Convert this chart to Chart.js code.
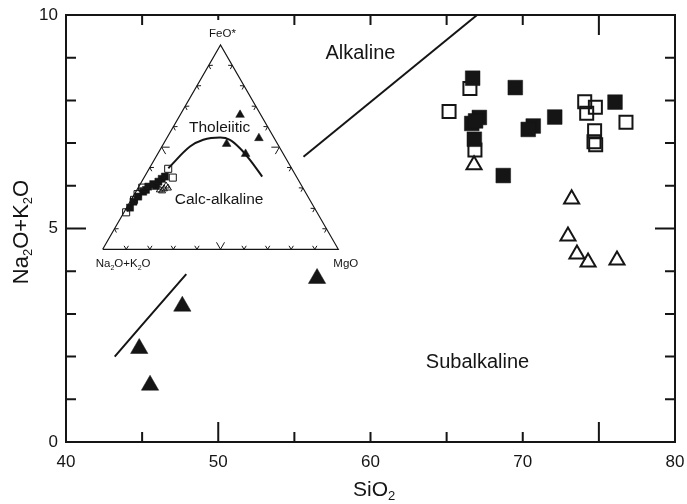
<!DOCTYPE html>
<html>
<head>
<meta charset="utf-8">
<script src="https://cdn.jsdelivr.net/npm/chart.js@4.4.0/dist/chart.umd.min.js"></script>
<style>
  body { margin: 0; background: #fff; }
  #wrap { position: relative; width: 687px; height: 504px; }
  #tas { position: absolute; left: 0; top: 0; }
  #afm { position: absolute; left: 85px; top: 20px; }
</style>
</head>
<body>
<div id="wrap">
  <canvas id="tas" width="687" height="504"></canvas>
  <canvas id="afm" width="280" height="255"></canvas>
</div>
<script>
// TAS diagram: SiO2 (wt%) against Na2O+K2O (wt%)
const filledSquareSiO2 = [66.71, 69.51, 67.15, 66.65, 66.90, 70.69, 70.36, 72.10, 66.82, 68.72, 76.06];
const filledSquareAlk  = [8.52, 8.30, 7.60, 7.46, 7.52, 7.40, 7.32, 7.61, 7.09, 6.24, 7.96];
const openSquareSiO2 = [66.53, 65.16, 74.07, 74.77, 74.20, 76.78, 74.72, 74.68, 74.79, 66.86];
const openSquareAlk  = [8.28, 7.74, 7.97, 7.84, 7.70, 7.49, 7.29, 7.03, 6.96, 6.84];
const openTriangleSiO2 = [66.80, 73.21, 72.97, 73.56, 74.29, 76.19];
const openTriangleAlk  = [6.49, 5.69, 4.82, 4.40, 4.21, 4.26];
const filledTriangleSiO2 = [44.81, 45.52, 47.64, 56.49];
const filledTriangleAlk  = [2.19, 1.33, 3.18, 3.83];

// alkaline / subalkaline boundary (Irvine & Baragar), two visible pieces
const boundaryLowSiO2 = [43.2, 44.9, 47.9];
const boundaryLowAlk  = [2.0, 2.7, 3.93];
const boundaryHighSiO2 = [55.6, 67.0];
const boundaryHighAlk  = [6.68, 10.0];

// AFM inset, each point as [Na2O+K2O, FeO*, MgO] in %
const afmFilledSquares = [[78.2, 20.4, 1.4], [75.3, 23.3, 1.4], [72.0, 25.8, 2.2], [68.7, 28.2, 3.1],
  [67.1, 29.1, 3.8], [65.3, 30.7, 4.0], [61.9, 31.0, 7.1], [62.6, 31.9, 5.5], [59.8, 33.1, 7.1],
  [57.7, 34.5, 7.8], [55.8, 35.6, 8.6]];
const afmOpenSquares = [[52.5, 39.4, 8.1], [52.7, 35.1, 12.2], [68.1, 30.2, 1.7], [71.7, 27.0, 1.3],
  [74.6, 24.2, 1.2], [81.0, 18.1, 0.9]];
const afmOpenTriangles = [[61.2, 29.1, 9.7], [59.2, 29.6, 11.2], [57.3, 30.0, 12.7], [57.6, 31.0, 11.4],
  [60.5, 28.6, 10.9]];
const afmFilledTriangles = [[8.8, 65.8, 25.4], [6.5, 54.4, 39.1], [21.6, 51.6, 26.8], [16.0, 46.7, 37.3]];
const afmBoundary = [[52.3, 39.7, 8.0], [37.8, 50.3, 11.9], [30.5, 53.6, 15.9], [22.8, 54.7, 22.5],
  [19.2, 53.6, 27.2], [17.0, 49.5, 33.5], [15.6, 43.8, 40.6], [14.5, 35.6, 49.9]];

const INK = "#151515";
const FONT = "'Liberation Sans', Arial, sans-serif";
const H = Math.sqrt(3) / 2;

function pairs(xs, ys) {
    return xs.map((v, i) => ({ x: v, y: ys[i] }));
}

// ternary -> cartesian, Na2O+K2O bottom left, MgO bottom right, FeO* on top
function afmPoints(list) {
    return list.map(([a, f, m]) => {
        const s = a + f + m;
        return { x: (m + f / 2) / s, y: (f / s) * H };
    });
}

// text with subscript pieces, e.g. [["Na"], ["2", true], ["O"]]
function drawSubText(ctx, parts, x, y, size, align) {
    const sub = Math.round(size * 0.6);
    let width = 0;
    parts.forEach(([t, s]) => {
        ctx.font = (s ? sub : size) + "px " + FONT;
        width += ctx.measureText(t).width;
    });
    let cx = align === "left" ? x : x - width / 2;
    ctx.textAlign = "left";
    ctx.textBaseline = "alphabetic";
    parts.forEach(([t, s]) => {
        ctx.font = (s ? sub : size) + "px " + FONT;
        ctx.fillText(t, cx, s ? y + size * 0.2 : y);
        cx += ctx.measureText(t).width;
    });
}

const tasFrame = {
    id: "tasFrame",
    afterDraw(chart) {
        const { ctx, chartArea: a, scales: { x, y } } = chart;
        ctx.save();
        ctx.strokeStyle = INK;
        ctx.fillStyle = INK;
        ctx.lineWidth = 2;
        ctx.strokeRect(a.left, a.top, a.right - a.left, a.bottom - a.top);

        // inward tick marks on all four sides
        ctx.beginPath();
        for (let v = 45; v < 80; v += 5) {
            const px = x.getPixelForValue(v);
            const lb = (v === 50 || v === 75) ? 20 : 10;
            const lt = v === 75 ? 20 : (v === 50 ? 5 : 10);
            ctx.moveTo(px, a.bottom);
            ctx.lineTo(px, a.bottom - lb);
            ctx.moveTo(px, a.top);
            ctx.lineTo(px, a.top + lt);
        }
        for (let v = 1; v < 10; v++) {
            const py = y.getPixelForValue(v);
            const l = v === 5 ? 20 : 10;
            ctx.moveTo(a.left, py);
            ctx.lineTo(a.left + l, py);
            ctx.moveTo(a.right, py);
            ctx.lineTo(a.right - l, py);
        }
        ctx.stroke();

        // field names
        ctx.font = "20px " + FONT;
        ctx.textAlign = "center";
        ctx.textBaseline = "middle";
        ctx.fillText("Alkaline", x.getPixelForValue(59.34), y.getPixelForValue(9.09));
        ctx.fillText("Subalkaline", x.getPixelForValue(67.03), y.getPixelForValue(1.87));

        // axis titles
        drawSubText(ctx, [["SiO"], ["2", true]], 353, 496, 21, "left");
        ctx.translate(28, 232);
        ctx.rotate(-Math.PI / 2);
        drawSubText(ctx, [["Na"], ["2", true], ["O+K"], ["2", true], ["O"]], 0, 0, 22, "center");
        ctx.restore();
    }
};

const afmDecor = {
    id: "afmDecor",
    afterDraw(chart) {
        const { ctx, scales: { x, y } } = chart;
        const P = (cx, cy) => ({ x: x.getPixelForValue(cx), y: y.getPixelForValue(cy) });
        const A = P(0, 0), M = P(1, 0), F = P(0.5, H);
        const C = { x: (A.x + M.x + F.x) / 3, y: (A.y + M.y + F.y) / 3 };
        ctx.save();
        ctx.strokeStyle = INK;
        ctx.fillStyle = INK;
        ctx.lineWidth = 1;

        // chevron ticks every 10 % along each side
        [[A, M], [A, F], [M, F]].forEach(([p, q]) => {
            const len = Math.hypot(q.x - p.x, q.y - p.y);
            const t = { x: (q.x - p.x) / len, y: (q.y - p.y) / len };
            let n = { x: -t.y, y: t.x };
            const mx = (p.x + q.x) / 2, my = (p.y + q.y) / 2;
            if ((C.x - mx) * n.x + (C.y - my) * n.y < 0) n = { x: -n.x, y: -n.y };
            for (let i = 1; i < 10; i++) {
                const bx = p.x + (q.x - p.x) * i / 10;
                const by = p.y + (q.y - p.y) * i / 10;
                const h = i === 5 ? 7 : 3.5;
                const w = i === 5 ? 4 : 2.2;
                ctx.beginPath();
                ctx.moveTo(bx + n.x * h + t.x * w, by + n.y * h + t.y * w);
                ctx.lineTo(bx, by);
                ctx.lineTo(bx + n.x * h - t.x * w, by + n.y * h - t.y * w);
                ctx.stroke();
            }
        });

        // apex labels
        ctx.font = "11.5px " + FONT;
        ctx.textAlign = "center";
        ctx.textBaseline = "alphabetic";
        ctx.fillText("FeO*", F.x + 2, F.y - 8);
        ctx.textAlign = "left";
        ctx.fillText("MgO", M.x - 5, M.y + 18);
        drawSubText(ctx, [["Na"], ["2", true], ["O+K"], ["2", true], ["O"]], A.x - 7, A.y + 18, 11.5, "left");

        // series names
        ctx.font = "15.5px " + FONT;
        ctx.textAlign = "center";
        ctx.textBaseline = "middle";
        ctx.fillText("Tholeiitic", x.getPixelForValue(0.496), y.getPixelForValue(0.5136));
        ctx.fillText("Calc-alkaline", x.getPixelForValue(0.494), y.getPixelForValue(0.2121));
        ctx.restore();
    }
};

Chart.defaults.font.family = FONT;

new Chart(document.getElementById("tas"), {
    type: "scatter",
    data: {
        datasets: [
            {
                data: pairs(boundaryLowSiO2, boundaryLowAlk),
                showLine: true, tension: 0.3, pointRadius: 0,
                borderColor: INK, borderWidth: 2, order: 5,
            },
            {
                data: pairs(boundaryHighSiO2, boundaryHighAlk),
                showLine: true, pointRadius: 0,
                borderColor: INK, borderWidth: 2, order: 5,
            },
            {
                data: pairs(openSquareSiO2, openSquareAlk),
                pointStyle: "rect", pointRadius: 9.2, borderWidth: 2,
                borderColor: INK, backgroundColor: "rgba(0,0,0,0)", order: 4,
            },
            {
                data: pairs(openTriangleSiO2, openTriangleAlk),
                pointStyle: "triangle", pointRadius: 8.7, borderWidth: 2,
                borderColor: INK, backgroundColor: "rgba(0,0,0,0)", order: 3,
            },
            {
                data: pairs(filledSquareSiO2, filledSquareAlk),
                pointStyle: "rect", pointRadius: 10.4, borderWidth: 0.5,
                borderColor: INK, backgroundColor: INK, order: 2,
            },
            {
                data: pairs(filledTriangleSiO2, filledTriangleAlk),
                pointStyle: "triangle", pointRadius: 10, borderWidth: 0.5,
                borderColor: INK, backgroundColor: INK, order: 1,
            },
        ],
    },
    options: {
        responsive: false,
        animation: false,
        devicePixelRatio: 1,
        layout: { padding: { top: 15, right: 12, left: 0, bottom: 0 } },
        plugins: { legend: { display: false }, tooltip: { enabled: false } },
        scales: {
            x: {
                type: "linear", min: 40, max: 80,
                grid: { display: false, drawTicks: false },
                border: { display: false },
                ticks: {
                    stepSize: 5, padding: 10, color: INK, maxRotation: 0, autoSkip: false,
                    font: { size: 17 },
                    callback: (v) => (v % 10 === 0 ? v : ""),
                },
                afterFit(scale) {
                    scale.height = 62;
                    scale.paddingLeft = 0;
                    scale.paddingRight = 0;
                },
            },
            y: {
                type: "linear", min: 0, max: 10,
                grid: { display: false, drawTicks: false },
                border: { display: false },
                ticks: {
                    stepSize: 1, padding: 8, color: INK, autoSkip: false,
                    font: { size: 17 },
                    callback: (v) => (v % 5 === 0 ? v : ""),
                },
                afterFit(scale) {
                    scale.width = 66;
                    scale.paddingTop = 0;
                    scale.paddingBottom = 0;
                },
            },
        },
    },
    plugins: [tasFrame],
});

new Chart(document.getElementById("afm"), {
    type: "scatter",
    data: {
        datasets: [
            {
                data: afmPoints([[100, 0, 0], [0, 0, 100], [0, 100, 0], [100, 0, 0]]),
                showLine: true, pointRadius: 0, borderColor: INK, borderWidth: 1.2, clip: false, order: 6,
            },
            {
                data: afmPoints(afmBoundary),
                showLine: true, pointRadius: 0, cubicInterpolationMode: "monotone",
                borderColor: INK, borderWidth: 2, clip: false, order: 5,
            },
            {
                data: afmPoints(afmOpenSquares),
                pointStyle: "rect", pointRadius: 5, borderWidth: 1,
                borderColor: INK, backgroundColor: "rgba(0,0,0,0)", clip: false, order: 4,
            },
            {
                data: afmPoints(afmOpenTriangles),
                pointStyle: "triangle", pointRadius: 4, borderWidth: 1,
                borderColor: INK, backgroundColor: "rgba(0,0,0,0)", clip: false, order: 3,
            },
            {
                data: afmPoints(afmFilledSquares),
                pointStyle: "rect", pointRadius: 5, borderWidth: 0.5,
                borderColor: INK, backgroundColor: INK, clip: false, order: 2,
            },
            {
                data: afmPoints(afmFilledTriangles),
                pointStyle: "triangle", pointRadius: 5, borderWidth: 0.5,
                borderColor: INK, backgroundColor: INK, clip: false, order: 1,
            },
        ],
    },
    options: {
        responsive: false,
        animation: false,
        devicePixelRatio: 1,
        layout: { padding: { left: 17.7, top: 25, right: 26.7, bottom: 25.7 } },
        plugins: { legend: { display: false }, tooltip: { enabled: false } },
        scales: {
            x: { type: "linear", min: 0, max: 1, display: false },
            y: { type: "linear", min: 0, max: H, display: false },
        },
    },
    plugins: [afmDecor],
});
</script>
</body>
</html>
